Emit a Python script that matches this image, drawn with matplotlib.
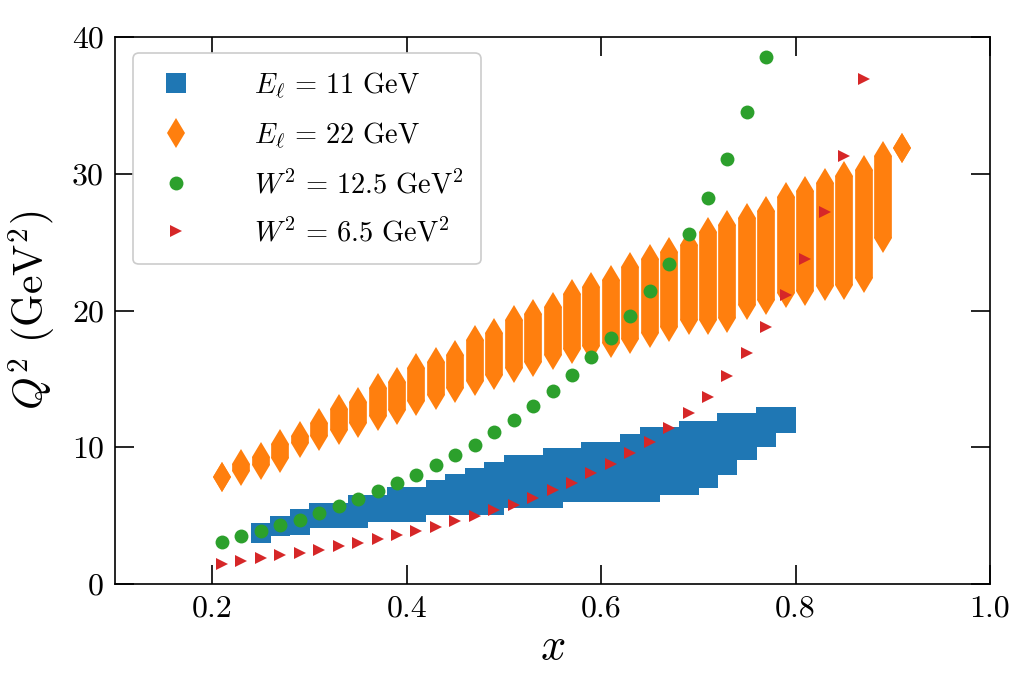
import numpy as np
import matplotlib
matplotlib.use("Agg")
from matplotlib import pyplot as plt

plt.rcParams["font.family"] = "serif"
plt.rcParams["font.serif"] = ["cmr10", "DejaVu Serif"]
plt.rcParams["mathtext.fontset"] = "cm"
plt.rcParams["axes.formatter.use_mathtext"] = True

# E_l = 11 GeV : Q^2 range (lo, hi) for each x bin
x_e11 = [0.25, 0.27, 0.29, 0.31, 0.33, 0.35, 0.37, 0.39, 0.41, 0.43,
         0.45, 0.47, 0.49, 0.51, 0.53, 0.55, 0.57, 0.59, 0.61, 0.63,
         0.65, 0.67, 0.69, 0.71, 0.73, 0.75, 0.77, 0.79]
q2_e11_lo = [3.75, 4.27, 4.3, 4.8, 4.8, 4.8, 5.29, 5.29, 5.29, 5.78,
             5.78, 5.78, 5.78, 6.27, 6.27, 6.27, 6.75, 6.75, 6.75, 6.75,
             6.75, 7.24, 7.24, 7.73, 8.7, 9.8, 10.77, 11.8]
q2_e11_hi = [3.75, 4.27, 4.73, 5.21, 5.21, 5.78, 5.78, 6.34, 6.34, 6.87,
             7.31, 7.75, 8.21, 8.7, 8.7, 9.19, 9.19, 9.67, 9.67, 10.24,
             10.73, 10.73, 11.21, 11.21, 11.75, 11.75, 12.23, 12.23]

# E_l = 22 GeV
x_e22 = [0.21, 0.23, 0.25, 0.27, 0.29, 0.31, 0.33, 0.35, 0.37, 0.39,
         0.41, 0.43, 0.45, 0.47, 0.49, 0.51, 0.53, 0.55, 0.57, 0.59,
         0.61, 0.63, 0.65, 0.67, 0.69, 0.71, 0.73, 0.75, 0.77, 0.79,
         0.81, 0.83, 0.85, 0.87, 0.89, 0.91]
q2_e22_lo = [7.8, 8.23, 8.72, 9.2, 10.3, 10.79, 11.28, 11.76, 12.25, 12.74,
             13.35, 13.84, 14.32, 14.81, 15.3, 15.78, 16.27, 16.76, 17.15, 17.4,
             17.6, 17.9, 18.34, 18.83, 19.32, 19.32, 19.44, 20.42, 20.78, 21.27,
             21.39, 21.76, 21.88, 22.36, 25.29, 31.85]
q2_e22_hi = [7.8, 8.81, 9.3, 10.27, 10.81, 11.79, 12.83, 13.32, 14.3, 14.79,
             15.76, 16.25, 16.73, 17.83, 18.32, 19.29, 19.78, 20.27, 21.24, 21.73,
             22.22, 23.2, 23.8, 24.29, 24.77, 25.75, 26.24, 26.8, 27.29, 28.31,
             28.75, 29.29, 29.82, 30.31, 31.28, 31.85]

# W^2 = 12.5 GeV^2
x_w125 = [0.21, 0.23, 0.25, 0.27, 0.29, 0.31, 0.33, 0.35, 0.37, 0.39,
          0.41, 0.43, 0.45, 0.47, 0.49, 0.51, 0.53, 0.55, 0.57, 0.59,
          0.61, 0.63, 0.65, 0.67, 0.69, 0.71, 0.73, 0.75, 0.77]
q2_w125 = [3.1, 3.5, 3.9, 4.3, 4.7, 5.2, 5.7, 6.2, 6.8, 7.4,
           8.0, 8.7, 9.4, 10.2, 11.1, 12.0, 13.0, 14.1, 15.3, 16.6,
           18.0, 19.6, 21.4, 23.4, 25.6, 28.2, 31.1, 34.5, 38.5]

# W^2 = 6.5 GeV^2
x_w65 = [0.21, 0.23, 0.25, 0.27, 0.29, 0.31, 0.33, 0.35, 0.37, 0.39,
         0.41, 0.43, 0.45, 0.47, 0.49, 0.51, 0.53, 0.55, 0.57, 0.59,
         0.61, 0.63, 0.65, 0.67, 0.69, 0.71, 0.73, 0.75, 0.77, 0.79,
         0.81, 0.83, 0.85, 0.87]
q2_w65 = [1.5, 1.7, 1.9, 2.1, 2.3, 2.5, 2.8, 3.0, 3.3, 3.6,
          3.9, 4.2, 4.6, 5.0, 5.4, 5.8, 6.3, 6.9, 7.4, 8.1,
          8.8, 9.6, 10.4, 11.4, 12.5, 13.7, 15.2, 16.9, 18.8, 21.1,
          23.8, 27.2, 31.3, 36.9]

blue = "#1f77b4"
orange = "#ff7f0e"
green = "#2ca02c"
red = "#d62728"

fig = plt.figure(figsize=(10.19, 6.81), dpi=100)
ax = fig.add_axes([0.1129, 0.1424, 0.8586, 0.8033])

# blue columns: squares stacked -> thick line with projecting caps
sq = 14.4
ax.vlines(x_e11, q2_e11_lo, q2_e11_hi, color=blue, lw=sq,
          capstyle="projecting", zorder=2)
ax.plot(x_e11, q2_e11_lo, "s", color=blue, ms=sq, mew=0, zorder=2,
        label=r"$E_\ell\,=\,11\ \mathrm{GeV}$")
ax.plot(x_e11, q2_e11_hi, "s", color=blue, ms=sq, mew=0, zorder=2)

# orange columns: thin diamonds stacked
dm = 15.0
ax.vlines(x_e22, q2_e22_lo, q2_e22_hi, color=orange, lw=dm * 0.849,
          capstyle="butt", zorder=3)
ax.plot(x_e22, q2_e22_lo, "d", color=orange, ms=dm, mew=0, zorder=3,
        label=r"$E_\ell\,=\,22\ \mathrm{GeV}$")
ax.plot(x_e22, q2_e22_hi, "d", color=orange, ms=dm, mew=0, zorder=3)

ax.plot(x_w125, q2_w125, "o", color=green, ms=10, mew=0, zorder=4,
        label=r"$W^2\,=\,12.5\ \mathrm{GeV}^2$")
ax.plot(x_w65, q2_w65, ">", color=red, ms=9.2, mew=0, zorder=5,
        label=r"$W^2\,=\,6.5\ \mathrm{GeV}^2$")

ax.set_xlim(0.1, 1.0)
ax.set_ylim(0, 40)
ax.set_xticks([0.2, 0.4, 0.6, 0.8, 1.0])
ax.set_xticklabels(["0.2", "0.4", "0.6", "0.8", "1.0"])
ax.set_yticks([0, 10, 20, 30, 40])
ax.set_yticklabels(["0", "10", "20", "30", "40"])
ax.tick_params(direction="in", top=True, right=True, length=14, width=1.2,
               labelsize=23, pad=8)
for s in ax.spines.values():
    s.set_linewidth(1.2)

ax.set_xlabel(r"$x$", fontsize=32, labelpad=4)
ax.set_ylabel(r"$Q^2\ (\mathrm{GeV}^2)$", fontsize=30, labelpad=10)

leg = ax.legend(loc="upper left", fontsize=20.5, handlelength=1.8,
                handletextpad=1.85, labelspacing=0.68, borderpad=0.6,
                borderaxespad=0, numpoints=1, fancybox=True, framealpha=1,
                bbox_to_anchor=(0.0206, 0.9707))
leg.get_frame().set_edgecolor("#cccccc")
leg.get_frame().set_linewidth(1.2)

fig.savefig("out.png", dpi=100)
